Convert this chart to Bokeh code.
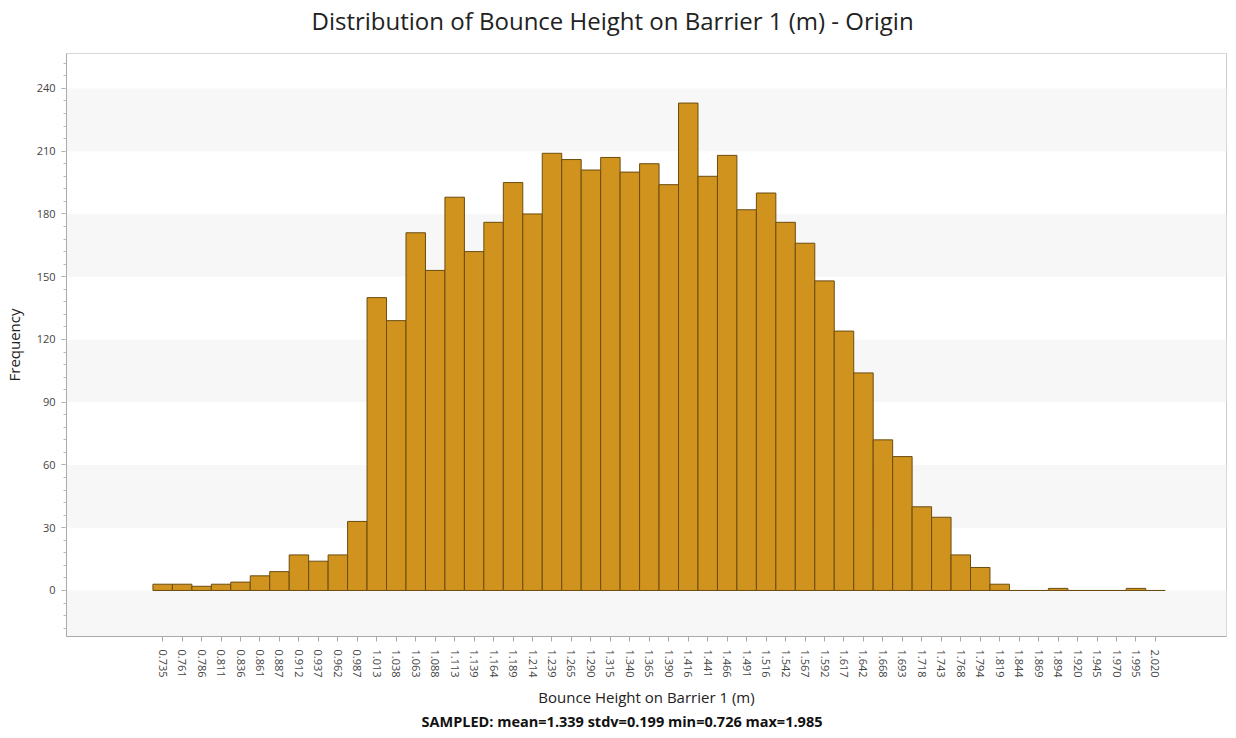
import math
from bokeh.plotting import figure
from bokeh.models import ColumnDataSource, FixedTicker, Range1d, Title
from bokeh.embed import file_html
from bokeh.resources import INLINE

# bin labels (centres) and counts
bin_labels = ["0.735", "0.761", "0.786", "0.811", "0.836", "0.861", "0.887", "0.912",
              "0.937", "0.962", "0.987", "1.013", "1.038", "1.063", "1.088", "1.113",
              "1.139", "1.164", "1.189", "1.214", "1.239", "1.265", "1.290", "1.315",
              "1.340", "1.365", "1.390", "1.416", "1.441", "1.466", "1.491", "1.516",
              "1.542", "1.567", "1.592", "1.617", "1.642", "1.668", "1.693", "1.718",
              "1.743", "1.768", "1.794", "1.819", "1.844", "1.869", "1.894", "1.920",
              "1.945", "1.970", "1.995", "2.020"]
counts = [3, 3, 2, 3, 4, 7, 9, 17, 14, 17, 33, 140, 129, 171, 153, 188,
          162, 176, 195, 180, 209, 206, 201, 207, 200, 204, 194, 233, 198, 208, 182, 190,
          176, 166, 148, 124, 104, 72, 64, 40, 35, 17, 11, 3, 0, 0, 1, 0,
          0, 0, 1, 0]
y_ticks = [0, 30, 60, 90, 120, 150, 180, 210, 240]

FONT = "Open Sans"

idx = list(range(len(bin_labels)))
src = ColumnDataSource(dict(x=idx, top=counts))

p = figure(width=1228, height=730, output_backend="svg", toolbar_location=None,
           x_range=Range1d(-4.94, 54.65), y_range=Range1d(-22.0, 256.7),
           min_border_left=60, min_border_right=2, min_border_top=53, min_border_bottom=94)

p.title.text = "Distribution of Bounce Height on Barrier 1 (m) - Origin"
p.title.align = "left"
p.title.offset = 245
p.title.standoff = 2
p.title.text_font = FONT
p.title.text_font_size = "24px"
p.title.text_font_style = "normal"
p.title.text_color = "#222222"

# small empty title that sits between the real title and the frame
spacer = Title(text=" ", text_font_size="1px", standoff=13)
p.add_layout(spacer, "above")

p.vbar(x="x", top="top", bottom=0, width=1.0, source=src,
       fill_color="#D0931E", line_color="#6B4C10", line_width=1)

p.outline_line_color = "#cccccc"
p.background_fill_color = "white"

# y axis
p.yaxis.ticker = FixedTicker(ticks=y_ticks,
                             minor_ticks=[v for v in range(-18, 256, 6)])
p.yaxis.axis_label = "Frequency"
p.yaxis.axis_label_text_font = FONT
p.yaxis.axis_label_text_font_style = "normal"
p.yaxis.axis_label_text_font_size = "15px"
p.yaxis.axis_label_text_color = "#222222"
p.yaxis.axis_label_standoff = 10
p.yaxis.major_label_text_font = FONT
p.yaxis.major_label_text_font_size = "11px"
p.yaxis.major_label_text_color = "#444444"
p.yaxis.major_label_standoff = 6
p.yaxis.axis_line_color = "#aaaaaa"
p.yaxis.major_tick_line_color = "#aaaaaa"
p.yaxis.minor_tick_line_color = "#bbbbbb"
p.yaxis.major_tick_out = 5
p.yaxis.major_tick_in = 0
p.yaxis.minor_tick_out = 3
p.yaxis.minor_tick_in = 0

# x axis
p.xaxis.ticker = FixedTicker(ticks=idx)
p.xaxis.major_label_overrides = {i: lab for i, lab in zip(idx, bin_labels)}
p.xaxis.major_label_orientation = -math.pi / 2
p.xaxis.axis_label = "Bounce Height on Barrier 1 (m)"
p.xaxis.axis_label_text_font = FONT
p.xaxis.axis_label_text_font_style = "normal"
p.xaxis.axis_label_text_font_size = "15px"
p.xaxis.axis_label_text_color = "#222222"
p.xaxis.axis_label_standoff = 6
p.xaxis.major_label_text_font = FONT
p.xaxis.major_label_text_font_size = "11px"
p.xaxis.major_label_text_color = "#444444"
p.xaxis.major_label_standoff = 8
p.xaxis.axis_line_color = "#aaaaaa"
p.xaxis.major_tick_line_color = "#aaaaaa"
p.xaxis.minor_tick_line_color = None
p.xaxis.major_tick_out = 5
p.xaxis.major_tick_in = 0

# alternating bands
p.xgrid.grid_line_color = None
p.ygrid.grid_line_color = None
p.ygrid.ticker = FixedTicker(ticks=[-30] + y_ticks + [270])
p.ygrid.band_fill_color = "#f7f7f7"
p.ygrid.band_fill_alpha = 1.0

stats = Title(text="SAMPLED: mean=1.339 stdv=0.199 min=0.726 max=1.985",
              align="left", offset=355, text_font=FONT, text_font_size="14.5px",
              text_font_style="bold", text_color="#111111", standoff=0)
p.add_layout(stats, "below")

open("out.html", "w").write(file_html(p, INLINE))
